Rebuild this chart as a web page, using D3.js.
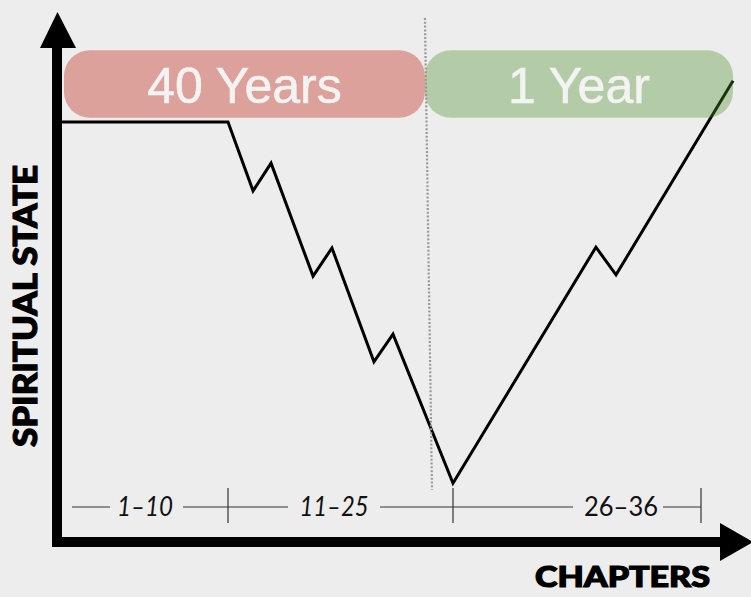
<!DOCTYPE html>
<html>
<head>
<meta charset="utf-8">
<script src="https://cdn.jsdelivr.net/npm/d3@7"></script>
<style>
  html, body { margin: 0; padding: 0; background: #ededed; }
  svg { display: block; }
</style>
</head>
<body>
<svg id="chart" width="751" height="597"></svg>
<script>
// ---- data ----
// chapter position (x) and spiritual state (y, 0..100 arbitrary scale)
const pathChapters = [0, 10, 11.67, 12.87, 15.67, 16.93, 19.73, 21.0, 25, 31.34, 32.23, 37.42];
const pathStates   = [100, 100, 83.6, 90.2, 63.3, 70.0, 42.9, 49.5, 14.0, 70.2, 63.6, 109.8];

const periodLabels = ["40 Years", "1 Year"];
const periodStart  = [0.12, 23.13];
const periodEnd    = [23.13, 37.42];

const chapterBreaks = [0, 10, 25, 36];
const rangeLabels   = ["1\u201310", "11\u201325", "26\u201336"];
const dividerChapter = [23.13, 23.6];

const xTitle = "CHAPTERS";
const yTitle = "SPIRITUAL STATE";

// ---- scales ----
const x = d3.scaleLinear().domain([0, 10, 25, 36]).range([62, 228, 453, 701]);
const y = d3.scaleLinear().domain([0, 100]).range([542, 122]);

const svg = d3.select("#chart");
svg.append("rect").attr("width", 751).attr("height", 597).attr("fill", "#ededed");

// extrapolating piecewise scale beyond last break
function xs(c) {
  if (c <= 36) return x(c);
  return x(36) + (c - 36) * (x(36) - x(25)) / 11;
}

// ---- main line ----
const pts = pathChapters.map((c, i) => [xs(c), y(pathStates[i])]);
svg.append("path")
  .attr("d", d3.line()(pts))
  .attr("fill", "none")
  .attr("stroke", "#000")
  .attr("stroke-width", 3)
  .attr("stroke-linejoin", "miter");

// ---- period boxes ----
const boxTop = y(117.1), boxBot = y(101);
const boxFill = ["#dba19a", "rgb(79,145,45)"];
const boxOpacity = [1, 0.36];
periodLabels.forEach((lab, i) => {
  const x0 = xs(periodStart[i]), x1 = xs(periodEnd[i]);
  svg.append("rect")
    .attr("x", x0).attr("y", boxTop)
    .attr("width", x1 - x0).attr("height", boxBot - boxTop)
    .attr("rx", 26).attr("ry", 26)
    .attr("fill", boxFill[i]).attr("fill-opacity", boxOpacity[i]);
  svg.append("text")
    .attr("x", (x0 + x1) / 2).attr("y", 103)
    .attr("text-anchor", "middle")
    .attr("font-family", "'Liberation Sans', Arial, sans-serif")
    .attr("font-size", 50)
    .attr("fill", "#f3f3f3")
    .attr("stroke", "#f3f3f3").attr("stroke-width", 0.6)
    .text(lab);
});

// ---- dotted divider ----
svg.append("line")
  .attr("x1", xs(dividerChapter[0])).attr("y1", 18)
  .attr("x2", xs(dividerChapter[1])).attr("y2", 490)
  .attr("stroke", "#999")
  .attr("stroke-width", 2.2)
  .attr("stroke-dasharray", "2,1.8");

// ---- chapter range axis ----
const rangeY = 507;
const labelInfo = [
  {gapL: 110, gapR: 183, cx: 145, italic: true},
  {gapL: 288, gapR: 380, cx: 334, italic: true},
  {gapL: 573, gapR: 663, cx: 621, italic: false}
];
const segs = [];
let cur = 72;
labelInfo.forEach(l => { segs.push([cur, l.gapL]); cur = l.gapR; });
segs.push([cur, x(36)]);
segs.forEach(s => {
  svg.append("line")
    .attr("x1", s[0]).attr("x2", s[1])
    .attr("y1", rangeY).attr("y2", rangeY)
    .attr("stroke", "#333").attr("stroke-width", 1);
});
chapterBreaks.slice(1).forEach(c => {
  svg.append("line")
    .attr("x1", x(c)).attr("x2", x(c))
    .attr("y1", 488).attr("y2", 523)
    .attr("stroke", "#333").attr("stroke-width", 1.2);
});
const labelWidths = [56, 69, 74];
rangeLabels.forEach((t, i) => {
  svg.append("text")
    .attr("x", labelInfo[i].cx - labelWidths[i] / 2).attr("y", 516)
    .attr("font-family", "Lato, 'Noto Sans', sans-serif")
    .attr("font-style", labelInfo[i].italic ? "italic" : "normal")
    .attr("font-size", 27)
    .attr("textLength", labelWidths[i]).attr("lengthAdjust", "spacingAndGlyphs")
    .attr("fill", "#111")
    .text(t);
});

// ---- axes (thick arrows) ----
svg.append("rect").attr("x", 52).attr("y", 40).attr("width", 10).attr("height", 507).attr("fill", "#000");
svg.append("path").attr("d", "M40,48 L57.5,12 L76,48 Z").attr("fill", "#000");
svg.append("rect").attr("x", 52).attr("y", 537).attr("width", 672).attr("height", 10).attr("fill", "#000");
svg.append("path").attr("d", "M720,523 L753,542 L720,561 Z").attr("fill", "#000");

// ---- titles ----
svg.append("text")
  .attr("x", 535).attr("y", 587)
  .attr("font-family", "Lato, 'DejaVu Sans', sans-serif")
  .attr("font-weight", 900)
  .attr("font-size", 28)
  .attr("textLength", 175).attr("lengthAdjust", "spacingAndGlyphs")
  .attr("fill", "#000").attr("stroke", "#000").attr("stroke-width", 1.2)
  .text(xTitle);

svg.append("text")
  .attr("transform", "translate(37,306) rotate(-90)")
  .attr("text-anchor", "middle")
  .attr("font-family", "Lato, 'DejaVu Sans', sans-serif")
  .attr("font-weight", 900)
  .attr("font-size", 33)
  .attr("textLength", 282).attr("lengthAdjust", "spacingAndGlyphs")
  .attr("fill", "#000").attr("stroke", "#000").attr("stroke-width", 1.2)
  .text(yTitle);
</script>
</body>
</html>
